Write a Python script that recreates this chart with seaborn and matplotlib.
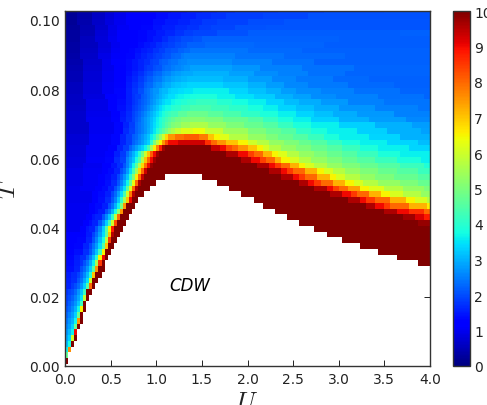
import numpy as np
import matplotlib
matplotlib.use("Agg")
import matplotlib.pyplot as plt
import seaborn as sns

U_TICKS = [0.0, 0.5, 1.0, 1.5, 2.0, 2.5, 3.0, 3.5, 4.0]
T_TICKS = [0.00, 0.02, 0.04, 0.06, 0.08, 0.10]
CB_TICKS = [0, 1, 2, 3, 4, 5, 6, 7, 8, 9, 10]
X_LABEL = "$U$"
Y_LABEL = "$T$"
REGION = "CDW"
N_COLS = 120

# Values, one line per T row from top to bottom,
# written as "first column:value" runs; x = no data (white).
ROWS = [
"0:.18 4:.35 9:.55 13:.75 16:.9 20:1.05 25:1.15 30:1.3 35:1.4 40:1.5 45:1.6 50:1.7 56:1.8 70:1.9 85:2 105:2.05",
"0:.2 4:.38 9:.6 13:.8 16:.95 20:1.1 25:1.2 30:1.35 34:1.45 38:1.55 43:1.65 48:1.75 53:1.85 65:1.95 80:2.05",
"0:.22 4:.4 9:.65 13:.85 16:1 20:1.12 25:1.25 29:1.38 33:1.5 37:1.6 41:1.7 45:1.8 50:1.9 60:2 72:2.1",
"0:.25 5:.45 10:.7 14:.9 17:1.05 21:1.18 25:1.3 29:1.43 32:1.55 36:1.65 40:1.75 44:1.85 48:1.95 56:2.05 66:2.1",
"0:.28 5:.5 10:.75 14:.95 17:1.1 21:1.2 24:1.3 27:1.4 30:1.5 33:1.62 36:1.75 39:1.85 42:1.95 50:2.05 60:2.15 110:2.2",
"0:.3 5:.55 10:.8 14:.98 17:1.1 21:1.2 24:1.3 27:1.4 29:1.5 32:1.65 34:1.8 36:1.9 38:2 42:2.1 45:2.2 90:2.15",
"0:.32 5:.57 11:.8 15:1 18:1.1 21:1.22 24:1.35 26:1.45 28:1.55 30:1.68 32:1.8 34:1.9 36:2 38:2.1 40:2.2 46:2.3 62:2.25 85:2.15",
"0:.35 5:.6 11:.85 15:1.03 18:1.15 21:1.3 23:1.4 25:1.5 27:1.6 29:1.72 31:1.85 33:2 35:2.1 37:2.2 39:2.3 41:2.4 60:2.3 78:2.2",
"0:.38 5:.65 11:.9 15:1.08 18:1.2 20:1.3 23:1.45 25:1.58 27:1.7 29:1.83 30:1.9 32:2.03 33:2.1 35:2.23 36:2.3 38:2.43 39:2.5 56:2.4 72:2.3 92:2.2",
"0:.4 6:.7 12:.95 15:1.1 18:1.25 20:1.35 22:1.45 24:1.58 26:1.7 28:1.87 29:1.95 31:2.12 32:2.2 34:2.33 35:2.4 37:2.5 38:2.55 40:2.65 55:2.5 68:2.35 82:2.2",
"0:.45 6:.72 12:.95 16:1.15 20:1.35 22:1.48 24:1.6 26:1.77 27:1.85 29:2.02 30:2.1 32:2.27 33:2.35 35:2.48 36:2.55 38:2.65 39:2.7 41:2.85 55:2.7 64:2.5 78:2.35 95:2.25",
"0:.5 6:.75 12:1 16:1.2 20:1.4 22:1.55 24:1.7 26:1.9 27:2 29:2.2 30:2.3 32:2.47 33:2.55 35:2.72 36:2.8 38:2.87 39:2.9 42:3 54:2.85 62:2.65 70:2.5 80:2.35 92:2.25",
"0:.5 6:.78 12:1 16:1.22 20:1.45 22:1.62 24:1.8 26:2.03 27:2.15 29:2.35 30:2.45 32:2.65 33:2.75 35:2.88 36:2.95 38:3.03 40:3.1 52:3 60:2.8 68:2.6 76:2.45 88:2.3 100:2.2",
"0:.55 6:.8 12:1.05 16:1.28 20:1.5 22:1.7 24:1.9 26:2.17 27:2.3 29:2.53 30:2.65 32:2.85 33:2.95 35:3.12 36:3.2 38:3.28 40:3.35 52:3.2 60:3 66:2.8 72:2.6 80:2.45 93:2.3 108:2.2",
"0:.58 6:.82 12:1.05 16:1.3 20:1.55 22:1.78 24:2 26:2.27 27:2.4 28:2.55 29:2.7 31:2.93 32:3.05 34:3.25 35:3.35 37:3.43 39:3.5 42:3.6 54:3.35 60:3.15 66:3 71:2.8 76:2.65 84:2.5 95:2.35 110:2.25",
"0:.6 6:.85 13:1.1 17:1.32 20:1.55 22:1.75 23:1.85 25:2.12 26:2.25 27:2.4 28:2.55 29:2.7 30:2.85 31:3 32:3.15 33:3.27 34:3.4 36:3.57 37:3.65 39:3.73 41:3.8 43:3.85 50:3.65 56:3.45 62:3.25 69:3 75:2.85 81:2.65 89:2.5 103:2.35 118:2.25",
"0:.62 7:.9 14:1.15 17:1.35 20:1.55 22:1.75 23:1.85 24:2 25:2.15 26:2.3 27:2.45 28:2.62 29:2.8 30:2.97 31:3.15 32:3.33 33:3.5 35:3.7 36:3.8 38:3.93 40:4.05 43:4.15 50:3.95 55:3.75 60:3.6 66:3.35 72:3.1 77:2.95 84:2.75 93:2.5 105:2.4",
"0:.65 7:.9 14:1.15 17:1.38 20:1.6 22:1.8 23:1.95 24:2.1 25:2.25 26:2.4 27:2.6 28:2.8 29:3 30:3.2 31:3.4 32:3.6 33:3.72 35:3.95 36:4.05 38:4.25 41:4.4 48:4.25 54:4.05 60:3.8 65:3.6 70:3.35 76:3.15 82:2.95 90:2.7 102:2.5 116:2.4",
"0:.68 7:.95 15:1.2 18:1.45 20:1.65 22:1.9 23:2.05 24:2.2 25:2.4 26:2.6 27:2.8 28:3 29:3.2 30:3.4 31:3.63 32:3.85 33:4.03 34:4.2 35:4.33 37:4.6 40:4.8 47:4.6 52:4.4 58:4.1 64:3.85 70:3.6 76:3.35 82:3.15 88:2.95 96:2.75 108:2.5",
"0:.7 7:.98 15:1.25 18:1.5 20:1.7 22:1.95 23:2.13 24:2.3 25:2.5 26:2.7 27:2.9 28:3.1 29:3.35 30:3.6 31:3.85 32:4.1 33:4.3 34:4.5 35:4.7 36:4.9 38:5.05 41:5.15 46:5 52:4.75 60:4.5 65:4.15 70:3.85 75:3.6 81:3.3 90:3 100:2.8 112:2.6",
"0:.7 8:1 16:1.3 19:1.6 21:1.85 23:2.2 24:2.35 25:2.5 26:2.7 27:2.9 28:3.15 29:3.4 30:3.65 31:3.9 32:4.2 33:4.5 34:4.75 35:5 36:5.15 38:5.4 41:5.6 47:5.3 53:5 59:4.75 65:4.5 70:4.15 75:3.85 81:3.6 90:3.3 102:3 114:2.8",
"0:.7 8:1 16:1.3 19:1.65 21:1.9 23:2.2 24:2.35 25:2.52 26:2.7 27:2.95 28:3.2 29:3.55 30:3.9 31:4.25 32:4.6 33:4.95 34:5.3 35:5.6 36:5.9 38:6.2 42:6.4 46:5.9 52:5.4 60:5 66:4.75 71:4.5 76:4.1 81:3.85 86:3.6 96:3.3 106:3 117:2.85",
"0:.75 8:1.03 15:1.3 18:1.6 20:1.85 22:2.15 23:2.3 24:2.5 25:2.7 26:2.95 27:3.2 28:3.6 29:4 30:4.7 31:5.3 32:6 33:6.8 34:7.5 36:7.9 39:8.1 44:7.8 47:7 49:6.5 51:6.2 54:5.7 60:5.3 66:5 70:4.75 75:4.5 80:4.2 85:3.85 90:3.6 100:3.35 110:3",
"0:.75 8:1.05 15:1.3 18:1.6 20:1.85 22:2.2 23:2.4 24:2.6 25:2.8 26:3.05 27:3.3 28:4 29:5 30:5.8 31:6.5 32:7.5 33:8.3 34:9 37:9.3 46:8.6 48:8 50:7.5 53:7 57:6.5 60:6 63:5.7 67:5.3 72:5 77:4.75 81:4.5 86:4.15 91:3.85 97:3.6 106:3.35 116:3.1",
"0:.8 7:1.03 14:1.25 17:1.6 19:1.85 21:2.25 22:2.5 23:2.8 24:3.05 25:3.3 26:3.7 27:4.4 28:5.5 29:6.6 30:7.7 31:8.8 32:9.7 33:10 48:9.4 51:9 53:8.3 55:8 57:7.5 60:7 63:6.5 65:6.1 67:5.7 71:5.3 76:5 81:4.75 86:4.5 91:4.2 97:3.85 103:3.6 113:3.35",
"0:.8 7:1.03 13:1.25 16:1.55 18:1.8 20:2.3 21:2.65 22:3 23:3.4 24:4 25:4.9 26:6 27:7 28:8.1 29:9 30:9.7 31:10 53:9.6 57:9 60:8.4 62:8 65:7.2 68:6.5 70:6.2 73:5.7 77:5.3 82:5 86:4.75 91:4.5 96:4.2 103:3.85 110:3.6",
"0:.85 7:1.08 13:1.3 16:1.65 18:1.9 20:2.5 21:2.85 22:3.2 23:3.8 24:4.5 25:5.7 26:7 27:8 28:9 29:9.7 30:10 58:9.6 61:9 64:8.4 66:8 69:7.2 71:6.5 74:6.1 77:5.7 81:5.3 86:5 91:4.75 96:4.5 102:4.2 109:3.85 117:3.6",
"0:.85 6:1 12:1.15 15:1.45 17:1.7 19:2.1 20:2.5 21:3 22:3.7 23:4.6 24:5.7 25:6.8 26:7.9 27:9 28:9.8 29:10 63:9.6 67:9 69:8.5 71:8 74:7.2 77:6.5 79:6.1 82:5.7 86:5.3 91:5 97:4.75 103:4.5 110:4.2 118:3.9",
"0:.9 6:1.05 12:1.2 14:1.35 16:1.6 18:2 19:2.3 20:2.8 21:3.4 22:4.3 23:5.4 24:6.8 25:8 26:9.3 27:10 67:9.6 71:9 73:8.5 75:8 79:7.2 83:6.5 85:6.1 88:5.7 92:5.3 97:5 103:4.75 109:4.5 116:4.2",
"0:.9 6:1.03 11:1.15 13:1.35 15:1.55 17:1.95 18:2.3 19:2.7 20:3.2 21:4 22:5.1 23:6.6 24:8 25:9.4 26:10 33:x 45:10 71:9.6 75:9 77:8.5 79:8 83:7.2 87:6.5 89:6.1 92:5.7 97:5.3 102:5 108:4.75 116:4.5",
"0:.9 6:1.03 11:1.15 13:1.4 15:1.65 17:2.1 18:2.5 19:3 20:3.7 21:4.8 22:6.3 23:8 24:9.6 25:10 30:x 50:10 77:9.6 80:9 82:8.5 84:8 88:7.2 92:6.5 95:6.1 98:5.7 103:5.3 110:5 116:4.75",
"0:.95 5:1.05 10:1.15 12:1.35 14:1.6 16:2 17:2.4 18:2.9 19:3.5 20:4.6 21:6.2 22:8 23:9.6 24:10 28:x 54:10 82:9.6 86:9 88:8.4 90:8 93:7.4 97:6.5 100:6.2 105:5.7 111:5.3 118:5",
"0:.95 9:1.15 11:1.35 13:1.55 15:1.95 16:2.3 17:2.8 18:3.4 19:4.4 20:6 21:7.8 22:9.5 23:10 26:x 58:10 87:9.6 91:9 94:8.5 96:8 100:7.2 104:6.5 107:6.1 111:5.7 117:5.3",
"0:.95 9:1.2 11:1.4 13:1.65 15:2.1 16:2.5 17:3.2 18:4.1 19:5.5 20:7 21:9 22:10 24:x 62:10 93:9.6 97:9 99:8.5 102:8 107:7.2 112:6.5 115:6.1 119:5.7",
"0:1 8:1.15 10:1.35 12:1.55 14:2 15:2.4 16:3 17:3.7 18:5 19:7.5 20:10 23:x 65:10 99:9.6 102:9 105:8.5 107:8 113:7.2 119:6.6",
"0:1 8:1.15 10:1.35 11:1.5 13:2 14:2.4 15:3 16:3.8 17:5.2 18:7.5 19:10 22:x 69:10 105:9.6 109:9 113:8.6 118:8",
"0:1 7:1.15 9:1.45 10:1.6 12:2.1 13:2.6 14:3.2 15:4.1 16:5.8 17:8 18:10 21:x 73:10 111:9.7 115:9.2 118:8.8",
"0:1 6:1.15 8:1.4 9:1.6 11:2.1 12:2.6 13:3.3 14:4.3 15:6 16:8.3 17:10 20:x 77:10 116:9.8",
"0:1 5:1.15 7:1.45 8:1.6 10:2.1 11:2.6 12:3.3 13:4.5 14:6.5 15:8.8 16:10 19:x 82:10",
"0:1.1 5:1.25 7:1.5 9:1.9 10:2.3 11:2.8 12:3.4 13:4.6 14:7 15:9.5 16:10 18:x 86:10",
"0:1.15 4:1.3 7:1.6 9:2.05 10:2.5 11:3.1 12:3.8 13:5.8 14:8.5 15:10 17:x 91:10",
"0:1.2 3:1.3 6:1.6 8:1.95 9:2.35 10:2.8 11:3.4 12:4.5 13:7 14:10 16:x 97:10",
"0:1.25 3:1.4 6:1.7 8:2.1 9:2.6 10:3.2 11:4.2 12:6.5 13:10 15:x 103:10",
"0:1.3 3:1.5 5:1.7 7:2.1 8:2.5 9:3.1 10:4 11:6.5 12:9 13:10 14:x 109:10",
"0:1.35 3:1.55 5:1.75 6:2.05 7:2.4 8:2.9 9:3.6 10:5.5 11:8.5 12:10 13:x 116:10",
"0:1.4 3:1.6 5:2 6:2.3 7:2.7 8:3.3 9:4.5 10:7.5 11:10 13:x",
"0:1.5 2:1.65 4:1.9 5:2.2 6:2.6 7:3.1 8:4 9:7 10:10 12:x",
"0:1.55 2:1.7 4:2.1 5:2.4 6:2.9 7:3.5 8:6 9:10 11:x",
"0:1.6 2:1.8 3:2 4:2.3 5:2.7 6:3.3 7:4.5 8:8 9:10 10:x",
"0:1.75 1:1.9 2:2 3:2.3 4:2.7 5:3.2 6:4.2 7:10 9:x",
"0:1.85 1:2 2:2.2 3:2.5 4:2.9 5:3.5 6:5.8 7:10 8:x",
"0:1.95 1:2.15 2:2.4 3:2.7 4:3.2 5:4.2 6:10 7:x",
"0:2.1 1:2.3 2:2.6 3:3 4:3.7 5:6.5 6:10 7:x",
"0:2.25 1:2.5 2:2.8 3:3.3 4:4.8 5:10 6:x",
"0:2.4 1:2.7 2:3 3:3.7 4:7.5 5:10 6:x",
"0:2.55 1:2.85 2:3.3 3:4.8 4:10 5:x",
"0:2.7 1:3.05 2:3.6 3:9 4:x",
"0:2.9 1:3.3 2:6 3:10 4:x",
"0:3.1 1:3.8 2:10 3:x",
"0:3.6 1:7.6 2:x",
"0:4.8 1:x",
"0:10 1:x",
"0:x",
]


def decode(row):
    values = np.full(N_COLS, np.nan)
    tokens = [t.split(":") for t in row.split()]
    starts = [int(t[0]) for t in tokens] + [N_COLS]
    for i, (_, v) in enumerate(tokens):
        if v != "x":
            values[starts[i]:starts[i + 1]] = float(v)
    return values


Z = np.array([decode(r) for r in ROWS[::-1]])

sns.set_style("white")
plt.rcParams["font.family"] = ["DejaVu Sans"]
plt.rcParams["mathtext.fontset"] = "cm"
INK = "#222222"
W, H = 487, 406

fig = plt.figure(figsize=(W / 100, H / 100), dpi=100)
ax = fig.add_axes([65 / W, (H - 367) / H, 365 / W, 355 / H])
cax = fig.add_axes([453 / W, (H - 367) / H, 17 / W, 355 / H])

sns.heatmap(Z, cmap="jet", vmin=0, vmax=10, ax=ax, cbar_ax=cax,
            xticklabels=False, yticklabels=False)

# cell rows sit 5.75 px high, with a partly visible row at each end
rows_per_T = 3460 / 5.75
row_at_T0 = 0.652
ax.set_xlim(0, N_COLS)
ax.set_ylim(row_at_T0, 62.39)
ax.set_xticks([u * N_COLS / 4 for u in U_TICKS])
ax.set_xticklabels([f"{u:.1f}" for u in U_TICKS], color=INK, fontsize=10)
ax.set_yticks([row_at_T0 + t * rows_per_T for t in T_TICKS])
ax.set_yticklabels([f"{t:.2f}" for t in T_TICKS], color=INK, fontsize=10)
ax.tick_params(direction="in", length=4, width=0.6, top=True, right=True,
               bottom=True, left=True, pad=4, color="k")
ax.set_xlabel(X_LABEL, fontsize=18, color=INK, labelpad=2)
ax.set_ylabel(Y_LABEL, fontsize=18, color=INK, labelpad=6)
for s in ax.spines.values():
    s.set_visible(True)
    s.set_color("#333333")
    s.set_linewidth(1.0)

ax.text(1.37 * N_COLS / 4, row_at_T0 + 0.0235 * rows_per_T, REGION,
        style="italic", fontsize=12, color="k", ha="center", va="center")

cbar = ax.collections[0].colorbar
cbar.set_ticks(CB_TICKS)
cbar.set_ticklabels([str(c) for c in CB_TICKS], color=INK, fontsize=10)
cbar.ax.tick_params(direction="in", length=4, width=0.6, right=True, pad=3, color="k")
cbar.outline.set_visible(True)
cbar.outline.set_linewidth(1.0)
cbar.outline.set_edgecolor("#333333")

fig.savefig("out.png", dpi=100)
